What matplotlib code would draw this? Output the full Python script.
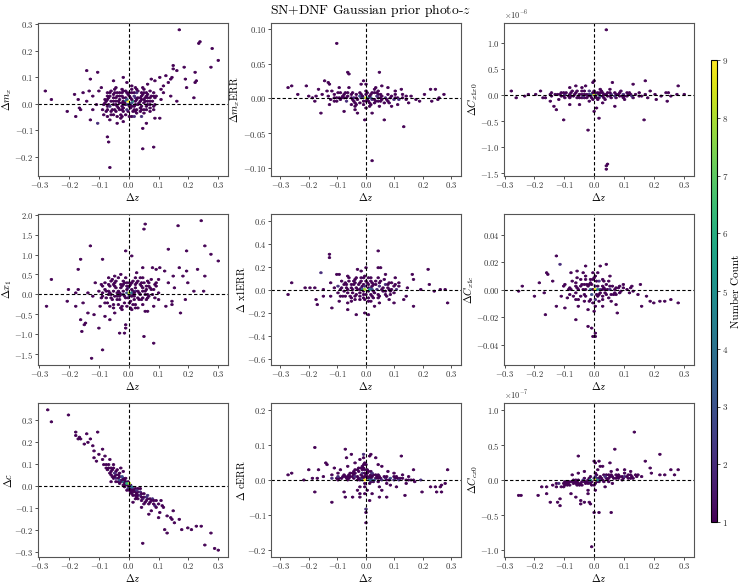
import numpy as np
import matplotlib
matplotlib.use("Agg")
import matplotlib.pyplot as plt
from matplotlib.ticker import MultipleLocator

plt.rcParams['font.family'] = 'serif'
plt.rcParams['font.serif'] = ['cmr10', 'DejaVu Serif']
plt.rcParams['mathtext.fontset'] = 'cm'
plt.rcParams['axes.formatter.use_mathtext'] = True
plt.rcParams['axes.unicode_minus'] = True

# (dz, dparam); *_core = the dense blob, *_hot = (dz, dparam, count)
mx_pts = [(0.17, 0.28), (0.243, 0.233), (0.231, 0.226), (0.281, 0.21), (0.30, 0.165), (0.275, 0.137), (0.222, 0.12),
          (0.186, 0.14), (0.151, 0.142), (0.147, 0.13), (0.163, 0.127), (0.193, 0.093), (0.224, 0.086), (0.222, 0.083),
          (0.191, 0.06), (0.22, 0.022), (0.148, 0.1), (0.14, 0.094), (0.125, 0.11), (0.1, 0.1), (0.13, 0.08),
          (0.115, 0.07), (0.09, 0.085), (0.075, 0.09), (0.105, 0.055), (0.12, 0.04), (0.14, 0.03), (0.16, 0.01),
          (-0.143, 0.124), (-0.107, 0.117), (-0.132, 0.095), (-0.278, 0.05), (-0.262, 0.017), (-0.203, -0.028),
          (-0.18, 0.035), (-0.17, 0.02), (-0.165, -0.015), (-0.16, -0.02), (-0.177, -0.05), (-0.129, -0.063),
          (-0.105, -0.077), (-0.103, -0.073), (-0.068, -0.123), (-0.068, -0.142), (-0.064, -0.243), (0.043, -0.17),
          (0.084, -0.165), (0.048, -0.091), (0.06, -0.074), (0.1, -0.055), (0.09, -0.055), (-0.02, 0.1),
          (-0.009, 0.08), (-0.051, 0.089), (0.012, 0.068), (-0.15, 0.04), (-0.13, 0.05), (-0.12, 0.03), (-0.11, 0.0),
          (-0.12, -0.02), (-0.14, 0.01), (-0.09, 0.06), (-0.1, 0.045), (-0.085, -0.04), (-0.06, -0.06),
          (-0.04, -0.07), (-0.02, -0.065), (-0.075, -0.05), (0.02, -0.05), (0.04, -0.045), (0.07, -0.03),
          (0.08, -0.02), (0.05, 0.06), (0.065, 0.075), (0.03, 0.05), (0.08, 0.04), (0.095, 0.03), (0.11, 0.015)]
mx_core = [(-0.08, 0.02), (-0.07, 0.0), (-0.07, -0.02), (-0.06, 0.03), (-0.06, 0.01), (-0.06, -0.01), (-0.06, -0.03),
           (-0.05, 0.04), (-0.05, 0.02), (-0.05, 0.0), (-0.05, -0.02), (-0.05, -0.04), (-0.04, 0.03), (-0.04, 0.01),
           (-0.04, -0.01), (-0.04, -0.03), (-0.03, 0.045), (-0.03, 0.02), (-0.03, 0.0), (-0.03, -0.02),
           (-0.03, -0.04), (-0.02, 0.03), (-0.02, 0.01), (-0.02, -0.01), (-0.02, -0.03), (-0.01, 0.04),
           (-0.01, 0.02), (-0.01, 0.0), (-0.01, -0.02), (0.0, 0.03), (0.0, -0.01), (0.0, -0.03), (0.01, 0.04),
           (0.01, 0.02), (0.01, -0.01), (0.01, -0.03), (0.02, 0.03), (0.02, 0.01), (0.02, -0.01), (0.02, -0.03),
           (0.03, 0.04), (0.03, 0.02), (0.03, 0.0), (0.03, -0.02), (0.04, 0.03), (0.04, 0.01), (0.04, -0.01),
           (0.04, -0.03), (0.05, 0.04), (0.05, 0.02), (0.05, 0.0), (0.05, -0.02), (0.06, 0.03), (0.06, 0.01),
           (0.06, -0.01), (0.07, 0.02), (0.07, 0.0), (0.08, 0.01),
           (-0.075, 0.01), (-0.065, -0.01), (-0.065, 0.025), (-0.055, 0.035), (-0.055, -0.025), (-0.045, 0.02),
           (-0.045, -0.005), (-0.035, 0.03), (-0.035, -0.015), (-0.025, 0.04), (-0.025, 0.005), (-0.025, -0.025),
           (-0.015, 0.025), (-0.015, -0.015), (-0.005, 0.035), (-0.005, -0.02), (0.005, 0.025), (0.005, -0.015),
           (0.015, 0.03), (0.015, -0.02), (0.025, 0.04), (0.025, -0.005), (0.035, 0.025), (0.035, -0.015),
           (0.045, 0.035), (0.045, -0.02), (0.055, 0.01), (0.065, 0.02), (0.065, -0.005), (0.075, 0.03),
           (0.085, 0.0), (-0.085, 0.0), (-0.09, -0.02), (0.09, 0.02), (-0.04, 0.06), (0.02, 0.06), (-0.07, 0.04),
           (0.06, 0.045),
           (-0.08, 0.005), (-0.07, 0.015), (-0.06, 0.045), (-0.06, -0.045), (-0.05, 0.055), (-0.05, 0.01),
           (-0.04, -0.045), (-0.04, 0.045), (-0.035, 0.01), (-0.03, -0.055), (-0.025, 0.055), (-0.02, 0.045),
           (-0.02, -0.045), (-0.015, 0.005), (-0.01, 0.05), (-0.01, -0.04), (-0.005, 0.01), (0.0, 0.045),
           (0.0, -0.045), (0.005, -0.005), (0.01, 0.055), (0.01, -0.045), (0.015, 0.01), (0.02, 0.045),
           (0.02, -0.045), (0.025, 0.015), (0.03, 0.055), (0.03, -0.035), (0.035, 0.005), (0.04, 0.045),
           (0.04, -0.045), (0.045, 0.015), (0.05, 0.055), (0.05, -0.035), (0.055, 0.025), (0.06, -0.025),
           (0.065, 0.035), (0.07, 0.045), (0.07, -0.015), (0.075, 0.01), (0.08, 0.03), (0.08, -0.01),
           (-0.075, 0.03), (-0.075, -0.01), (-0.08, -0.03), (-0.065, 0.04)]
mx_hot = [(0.0, 0.01, 9), (-0.01, 0.01, 4), (0.01, 0.01, 5), (0.0, 0.0, 3), (-0.005, 0.02, 3), (0.01, 0.0, 3),
          (-0.02, 0.0, 2), (0.02, 0.02, 2)]

mxerr_pts = [(-0.098, 0.080), (-0.273, 0.017), (-0.259, 0.019), (-0.206, 0.018), (-0.238, 0.005), (-0.144, 0.026),
             (-0.13, 0.023), (-0.126, 0.021), (-0.063, 0.039), (-0.057, 0.035), (0.05, 0.037), (-0.168, 0.012),
             (-0.173, 0.003), (-0.157, -0.021), (-0.124, -0.008), (-0.075, -0.02), (-0.032, -0.02), (-0.038, -0.016),
             (-0.005, -0.031), (0.064, -0.032), (0.134, -0.041), (0.025, -0.09), (0.224, 0.013), (0.245, 0.014),
             (0.206, 0.007), (0.275, 0.005), (0.254, -0.001), (0.233, -0.005), (0.26, 0.002), (0.152, -0.006),
             (0.177, -0.002), (0.032, 0.016), (0.028, 0.013), (0.123, 0.012), (0.1, 0.01), (0.01, -0.012),
             (0.02, -0.02), (-0.09, 0.015), (-0.1, 0.008), (-0.11, -0.005), (-0.18, -0.005), (-0.19, 0.0),
             (-0.2, 0.002), (-0.15, 0.005), (-0.14, 0.01), (-0.12, 0.012), (0.06, 0.018), (0.08, 0.015),
             (0.09, -0.01), (0.11, -0.008), (0.13, 0.005), (0.14, -0.002), (0.16, 0.004), (0.19, -0.004),
             (-0.05, -0.01), (-0.06, 0.015), (-0.07, 0.008), (-0.02, 0.02), (-0.01, 0.025), (0.0, 0.022),
             (0.04, 0.01), (0.05, -0.012), (-0.04, -0.012), (0.0, -0.015)]
mxerr_core = [(-0.1, 0.002), (-0.09, -0.002), (-0.08, 0.004), (-0.07, -0.003), (-0.06, 0.003), (-0.05, -0.002),
              (-0.05, 0.006), (-0.04, 0.002), (-0.04, -0.005), (-0.03, 0.005), (-0.03, -0.002), (-0.02, 0.0),
              (-0.02, 0.008), (-0.02, -0.006), (-0.01, 0.004), (-0.01, -0.004), (0.0, 0.006), (0.0, -0.005),
              (0.01, 0.003), (0.01, -0.004), (0.02, 0.005), (0.02, -0.002), (0.03, 0.0), (0.03, 0.007),
              (0.03, -0.006), (0.04, 0.003), (0.04, -0.003), (0.05, 0.0), (0.05, 0.006), (0.06, -0.002),
              (0.07, 0.002), (0.08, -0.003), (0.09, 0.003), (0.1, -0.001), (0.11, 0.002), (0.12, -0.002),
              (-0.095, 0.0), (-0.085, 0.001), (-0.075, 0.0), (-0.065, 0.0), (-0.055, 0.001), (-0.045, 0.0),
              (-0.035, 0.0), (-0.025, 0.003), (-0.015, 0.0), (-0.005, 0.002), (0.005, -0.002), (0.015, 0.002),
              (0.025, -0.001), (0.035, 0.003), (0.045, 0.001), (0.055, -0.003), (0.065, 0.001), (0.075, -0.001),
              (0.085, 0.001), (0.095, -0.002), (0.105, 0.001), (0.115, -0.001), (0.13, 0.0), (0.14, 0.003),
              (-0.11, 0.001), (-0.12, -0.002), (-0.13, 0.003), (-0.06, 0.009), (0.04, 0.009), (0.0, 0.01),
              (-0.03, -0.008), (0.02, -0.008),
              (-0.075, 0.006), (-0.065, -0.005), (-0.045, 0.008), (-0.035, -0.006), (-0.015, 0.007), (-0.005, -0.008),
              (0.005, 0.008), (0.015, -0.007), (0.025, 0.009), (0.035, -0.005), (0.045, 0.006), (0.055, 0.004),
              (0.065, -0.006), (0.075, 0.005), (0.085, -0.006), (0.1, 0.006), (-0.09, 0.007), (-0.1, -0.005),
              (-0.11, 0.006)]
mxerr_hot = [(0.0, 0.0, 9), (-0.01, 0.0, 3), (0.01, 0.0, 4), (0.02, 0.0, 2), (-0.02, 0.002, 2)]

# in units of 1e-6
cx1x0_pts = [(0.043, 1.25), (-0.002, 0.29), (-0.004, 0.25), (0.061, 0.22), (0.13, 0.21), (0.169, 0.26), (0.281, 0.19),
             (0.186, 0.07), (0.24, 0.04), (0.208, -0.1), (0.244, -0.11), (0.275, 0.0), (0.303, 0.02), (-0.275, 0.08),
             (-0.261, -0.05), (-0.18, 0.07), (-0.16, -0.04), (-0.147, -0.13), (-0.132, -0.22), (-0.127, -0.27),
             (-0.104, -0.46), (-0.021, -0.67), (0.016, -0.46), (0.002, -0.32), (0.008, -0.26), (0.065, -0.21),
             (0.169, -0.48), (0.039, -1.36), (0.045, -1.34), (0.043, -1.42), (-0.08, 0.14), (-0.06, 0.16),
             (-0.04, 0.15), (-0.025, 0.18), (0.02, 0.12), (0.05, 0.1), (0.09, 0.08), (0.12, 0.06), (0.15, 0.05),
             (0.2, 0.02), (0.22, -0.03), (0.26, -0.02), (-0.2, 0.02), (-0.22, 0.01), (-0.23, -0.02), (-0.17, -0.05),
             (-0.12, -0.1), (-0.08, -0.17), (-0.05, -0.2), (-0.02, -0.12), (0.03, -0.15), (0.1, -0.08),
             (0.13, -0.05), (-0.1, 0.06), (-0.14, 0.04), (0.18, -0.04), (0.25, 0.05)]
cx1x0_core = [(-0.12, 0.0), (-0.11, -0.03), (-0.1, 0.02), (-0.09, -0.02), (-0.08, 0.03), (-0.08, -0.05), (-0.07, 0.0),
              (-0.06, 0.05), (-0.06, -0.04), (-0.05, 0.01), (-0.05, -0.07), (-0.04, 0.06), (-0.04, -0.02),
              (-0.03, 0.02), (-0.03, -0.05), (-0.02, 0.07), (-0.02, -0.01), (-0.01, 0.03), (-0.01, -0.06),
              (0.0, 0.08), (0.0, -0.03), (0.01, 0.04), (0.01, -0.08), (0.02, 0.0), (0.02, 0.06), (0.03, -0.04),
              (0.03, 0.03), (0.04, 0.0), (0.05, 0.05), (0.05, -0.03), (0.06, 0.01), (0.07, -0.02), (0.08, 0.03),
              (0.09, -0.01), (0.1, 0.02), (0.11, -0.03), (0.12, 0.01), (0.13, -0.02), (0.14, 0.0),
              (-0.115, 0.0), (-0.105, -0.01), (-0.095, 0.0), (-0.085, 0.0), (-0.075, -0.02), (-0.065, 0.02),
              (-0.055, -0.01), (-0.045, 0.02), (-0.035, -0.01), (-0.025, 0.03), (-0.015, -0.03), (-0.005, 0.04),
              (0.005, -0.04), (0.015, 0.02), (0.025, -0.02), (0.035, 0.01), (0.045, -0.01), (0.055, 0.02),
              (0.065, -0.01), (0.075, 0.01), (0.085, -0.01), (0.095, 0.01), (0.105, -0.01), (0.115, 0.01),
              (0.125, -0.01), (0.15, 0.0), (0.16, -0.02), (0.17, 0.01), (-0.13, 0.02), (-0.14, -0.02), (-0.15, 0.0),
              (-0.095, 0.06), (-0.075, 0.06), (-0.055, 0.08), (-0.045, -0.05), (-0.035, 0.07), (-0.025, -0.07),
              (-0.015, 0.08), (-0.005, -0.1), (0.005, 0.06), (0.015, -0.06), (0.025, 0.08), (0.035, -0.07),
              (0.045, 0.06), (0.055, -0.06), (0.065, 0.05), (0.075, -0.05), (0.085, 0.06), (0.1, -0.05),
              (0.11, 0.05), (-0.11, 0.05), (-0.1, -0.06)]
cx1x0_hot = [(0.0, 0.0, 9), (-0.01, 0.0, 3), (0.01, 0.0, 5), (-0.02, 0.0, 2), (0.02, -0.01, 2), (0.005, 0.02, 2)]

x1_pts = [(0.056, 1.79), (0.049, 1.66), (0.243, 1.86), (0.165, 1.70), (0.133, 1.12), (0.19, 1.08), (0.252, 1.21),
          (0.276, 1.03), (0.301, 0.82), (-0.13, 1.21), (-0.162, 0.88), (-0.086, 0.88), (-0.012, 1.07), (0.01, 0.98),
          (-0.167, 0.63), (-0.262, 0.36), (-0.275, -0.3), (-0.206, -0.15), (-0.181, -0.31), (-0.162, -0.61),
          (-0.158, -0.92), (-0.148, -0.71), (-0.149, -0.77), (-0.101, -0.83), (-0.126, -1.63), (-0.088, -1.39),
          (-0.031, -0.98), (-0.018, -0.98), (0.053, -1.07), (0.084, -1.22), (0.17, -0.46), (0.141, -0.18),
          (0.145, -0.24), (0.125, -0.31), (0.192, -0.11), (0.22, 0.08), (0.249, 0.08), (0.195, 0.61), (0.167, 0.69),
          (0.232, 0.63), (0.254, 0.46), (0.182, 0.46), (0.15, 0.47), (0.12, 0.57), (0.105, 0.66), (0.088, 0.63),
          (0.077, 0.68), (0.043, 0.68), (0.055, -0.43), (0.06, -0.43), (0.01, -0.4), (0.02, -0.36), (-0.009, -0.76),
          (-0.013, -0.84), (-0.2, 0.14), (-0.17, 0.14), (-0.18, 0.02), (-0.14, 0.05), (-0.12, -0.05), (-0.14, -0.45),
          (-0.12, -0.5), (-0.1, -0.3), (-0.08, -0.55), (-0.06, -0.65), (-0.05, -0.45), (-0.11, 0.3), (-0.09, 0.25),
          (-0.05, 0.45), (-0.03, 0.5), (0.1, 0.4), (0.13, 0.3), (0.09, 0.2), (0.1, -0.15), (0.08, -0.3),
          (-0.15, -0.2), (0.2, 0.3), (0.15, 0.15), (-0.07, 0.4), (0.03, 0.55)]
x1_core = [(-0.09, 0.05), (-0.08, -0.1), (-0.08, 0.15), (-0.07, -0.2), (-0.07, 0.0), (-0.06, 0.2), (-0.06, -0.1),
           (-0.05, 0.1), (-0.05, -0.25), (-0.05, 0.3), (-0.04, -0.05), (-0.04, 0.15), (-0.03, 0.25), (-0.03, -0.15),
           (-0.03, 0.05), (-0.02, -0.3), (-0.02, 0.1), (-0.02, 0.35), (-0.01, -0.1), (-0.01, 0.2), (0.0, 0.3),
           (0.0, -0.2), (0.01, 0.15), (0.01, -0.05), (0.02, 0.25), (0.02, -0.15), (0.02, 0.05), (0.03, 0.35),
           (0.03, -0.08), (0.04, 0.2), (0.04, 0.0), (0.05, 0.3), (0.05, -0.1), (0.06, 0.1), (0.07, 0.22),
           (0.07, -0.05), (0.08, 0.12), (0.09, 0.3),
           (-0.085, -0.05), (-0.075, 0.1), (-0.065, 0.05), (-0.055, -0.15), (-0.045, 0.2), (-0.045, -0.05),
           (-0.035, 0.1), (-0.035, -0.25), (-0.025, 0.0), (-0.025, 0.2), (-0.015, -0.2), (-0.015, 0.3),
           (-0.005, 0.1), (-0.005, -0.1), (0.005, 0.25), (0.005, -0.15), (0.015, 0.0), (0.015, 0.35),
           (0.025, -0.25), (0.025, 0.15), (0.035, 0.05), (0.035, 0.25), (0.045, -0.15), (0.045, 0.1), (0.055, 0.2),
           (0.055, 0.0), (0.065, 0.3), (0.065, -0.1), (0.075, 0.1), (0.085, 0.25), (0.1, 0.05), (-0.1, 0.1),
           (-0.06, 0.35), (0.04, 0.4), (-0.02, -0.4),
           (-0.09, 0.2), (-0.09, -0.1), (-0.08, 0.3), (-0.08, -0.2), (-0.07, 0.25), (-0.07, 0.1), (-0.065, -0.3),
           (-0.06, 0.0), (-0.055, 0.4), (-0.055, 0.25), (-0.05, -0.35), (-0.045, 0.35), (-0.04, 0.05),
           (-0.04, -0.15), (-0.035, 0.4), (-0.03, -0.05), (-0.03, 0.15), (-0.025, -0.35), (-0.02, 0.25),
           (-0.015, -0.05), (-0.01, 0.4), (-0.01, -0.3), (-0.005, 0.3), (0.0, 0.2), (0.005, -0.35), (0.01, 0.3),
           (0.01, -0.25), (0.015, 0.1), (0.02, 0.4), (0.02, -0.05), (0.025, 0.3), (0.03, 0.1), (0.03, -0.35),
           (0.035, -0.15), (0.04, 0.3), (0.045, 0.4), (0.05, 0.15), (0.05, -0.25), (0.055, 0.1), (0.06, 0.35),
           (0.06, -0.15), (0.065, 0.0), (0.07, 0.15), (0.075, 0.35), (0.08, 0.0), (0.085, -0.1)]
x1_hot = [(0.0, 0.05, 8), (-0.01, 0.05, 3), (0.01, 0.05, 4), (0.0, 0.15, 2), (0.0, -0.05, 2), (-0.02, 0.0, 2),
          (0.02, 0.1, 2)]

x1err_pts = [(0.046, 0.335), (-0.132, 0.306), (-0.13, 0.277), (0.05, 0.195), (0.045, 0.19), (0.0, 0.2), (0.217, 0.18),
             (-0.161, 0.153), (-0.157, 0.14), (-0.261, 0.06), (-0.274, -0.043), (-0.2, 0.02), (-0.178, -0.09),
             (-0.174, -0.135), (-0.12, -0.16), (-0.067, -0.17), (-0.036, -0.22), (-0.003, -0.21), (0.006, -0.22),
             (0.17, -0.147), (0.287, -0.113), (0.22, 0.04), (0.24, -0.01), (0.26, 0.0), (0.28, 0.0), (0.19, -0.0),
             (0.16, 0.13), (0.165, 0.09), (-0.12, 0.06), (-0.1, 0.14), (-0.09, 0.13), (-0.066, 0.12), (-0.03, 0.17),
             (-0.02, 0.16), (0.1, 0.1), (0.12, 0.06), (0.14, -0.05), (0.13, -0.08), (0.1, -0.12), (0.08, -0.08),
             (-0.15, 0.0), (-0.15, -0.05), (-0.12, -0.06), (-0.09, -0.1), (-0.06, -0.12), (0.03, -0.15),
             (0.05, -0.12), (-0.21, 0.02), (-0.18, 0.02), (0.07, 0.14), (0.09, 0.06), (0.15, 0.02), (-0.1, 0.03)]
x1err_core = [(-0.09, 0.0), (-0.08, 0.05), (-0.08, -0.05), (-0.07, 0.02), (-0.06, -0.03), (-0.06, 0.07), (-0.05, 0.0),
              (-0.05, -0.07), (-0.04, 0.04), (-0.04, 0.09), (-0.03, -0.04), (-0.03, 0.01), (-0.02, 0.06),
              (-0.02, -0.08), (-0.01, -0.02), (-0.01, 0.03), (0.0, 0.08), (0.0, -0.05), (0.01, 0.04), (0.01, -0.02),
              (0.02, 0.1), (0.02, -0.06), (0.02, 0.01), (0.03, 0.05), (0.03, -0.03), (0.04, 0.0), (0.05, 0.06),
              (0.05, -0.05), (0.06, 0.02), (0.07, -0.02), (0.08, 0.04), (0.09, 0.0), (0.1, -0.03),
              (-0.085, 0.02), (-0.075, -0.02), (-0.065, 0.04), (-0.055, 0.02), (-0.055, -0.05), (-0.045, -0.02),
              (-0.035, 0.06), (-0.035, 0.02), (-0.025, -0.06), (-0.025, 0.04), (-0.015, 0.08), (-0.015, 0.0),
              (-0.005, -0.04), (-0.005, 0.05), (0.005, 0.02), (0.005, -0.07), (0.015, 0.07), (0.015, -0.04),
              (0.025, 0.03), (0.025, -0.02), (0.035, 0.08), (0.035, 0.0), (0.045, -0.04), (0.045, 0.03),
              (0.055, 0.0), (0.065, 0.05), (0.065, -0.04), (0.075, 0.02), (0.085, -0.01), (0.095, 0.03),
              (0.11, 0.0), (0.12, 0.03), (-0.1, -0.03), (-0.11, 0.02), (0.0, 0.12), (0.01, -0.1),
              (-0.095, 0.03), (-0.09, -0.05), (-0.085, 0.08), (-0.075, 0.06), (-0.07, -0.06), (-0.065, 0.0),
              (-0.06, 0.1), (-0.055, 0.05), (-0.05, -0.1), (-0.045, 0.07), (-0.04, -0.06), (-0.035, -0.09),
              (-0.03, 0.1), (-0.025, 0.0), (-0.02, -0.03), (-0.015, 0.11), (-0.01, -0.07), (-0.005, 0.1),
              (0.0, -0.09), (0.005, 0.06), (0.01, 0.1), (0.015, 0.02), (0.02, -0.1), (0.025, 0.06), (0.03, -0.07),
              (0.035, 0.04), (0.04, 0.1), (0.045, -0.07), (0.05, 0.03), (0.055, 0.08), (0.06, -0.02), (0.065, 0.08),
              (0.07, 0.05), (0.075, -0.05), (0.08, 0.0), (0.085, 0.06), (0.09, -0.04), (0.1, 0.05), (0.105, 0.0)]
x1err_hot = [(0.0, 0.0, 8), (0.01, 0.0, 5), (-0.01, 0.0, 3), (0.02, 0.0, 3), (0.0, 0.03, 2), (-0.02, 0.02, 2)]

cx1c_pts = [(-0.127, 0.024), (-0.115, 0.019), (-0.112, 0.018), (-0.157, 0.012), (-0.152, 0.011), (-0.182, 0.005),
            (-0.239, 0.003), (-0.254, -0.001), (-0.11, -0.005), (-0.09, -0.006), (-0.163, -0.018), (-0.065, -0.022),
            (-0.02, -0.027), (-0.009, -0.027), (-0.003, -0.034), (0.003, -0.034), (0.0, -0.031), (0.038, 0.018),
            (0.02, 0.018), (-0.027, 0.017), (0.188, -0.008), (0.2, -0.01), (0.22, -0.009), (0.24, -0.008),
            (0.257, -0.007), (0.282, -0.009), (0.175, -0.004), (0.15, -0.003), (0.12, -0.002), (0.16, -0.012),
            (0.08, -0.017), (0.07, -0.011), (0.1, 0.004), (0.13, 0.003), (0.155, 0.004), (-0.2, -0.005),
            (-0.17, -0.002), (-0.14, 0.006), (-0.13, -0.012), (-0.1, -0.013), (-0.08, 0.012), (-0.06, 0.014),
            (-0.04, 0.012), (-0.05, -0.012), (0.05, 0.01), (0.06, -0.008), (0.03, -0.012), (-0.02, -0.015),
            (0.01, 0.012), (-0.005, 0.013)]
cx1c_core = [(-0.08, 0.002), (-0.07, -0.004), (-0.06, 0.005), (-0.05, 0.0), (-0.05, -0.007), (-0.04, 0.004),
             (-0.03, -0.003), (-0.03, 0.007), (-0.02, 0.002), (-0.02, -0.008), (-0.01, 0.005), (-0.01, -0.004),
             (0.0, 0.008), (0.0, -0.007), (0.01, 0.003), (0.01, -0.005), (0.02, 0.006), (0.02, -0.002), (0.03, 0.002),
             (0.03, -0.007), (0.04, 0.004), (0.04, -0.003), (0.05, 0.0), (0.06, 0.003), (0.07, -0.002), (0.08, 0.002),
             (0.09, -0.001), (0.1, 0.001),
             (-0.075, 0.0), (-0.065, -0.002), (-0.065, 0.003), (-0.055, 0.002), (-0.045, -0.004), (-0.045, 0.007),
             (-0.035, 0.0), (-0.035, -0.008), (-0.025, 0.004), (-0.025, -0.005), (-0.015, 0.0), (-0.015, 0.008),
             (-0.015, -0.007), (-0.005, 0.004), (-0.005, -0.009), (0.005, 0.006), (0.005, -0.003), (0.015, 0.0),
             (0.015, -0.008), (0.025, 0.003), (0.025, -0.005), (0.035, 0.006), (0.035, -0.002), (0.045, 0.0),
             (0.055, 0.003), (0.055, -0.004), (0.065, 0.0), (0.075, 0.002), (0.085, -0.002), (0.11, 0.0),
             (0.12, 0.002), (0.13, -0.001), (-0.09, 0.0), (-0.1, 0.003), (0.0, -0.012), (0.0, -0.015), (0.005, 0.01),
             (-0.075, 0.006), (-0.065, -0.007), (-0.055, 0.009), (-0.045, 0.002), (-0.035, 0.004), (-0.025, 0.0),
             (-0.025, 0.01), (-0.015, 0.004), (-0.005, 0.0), (-0.005, 0.007), (0.005, 0.0), (0.005, -0.007),
             (0.015, 0.006), (0.015, -0.004), (0.025, 0.0), (0.025, 0.008), (0.035, 0.0), (0.045, 0.006),
             (0.045, -0.006), (0.055, 0.0), (0.065, -0.004), (0.075, -0.004), (0.085, 0.003), (-0.085, -0.003),
             (-0.095, 0.004)]
cx1c_hot = [(0.0, 0.0, 9), (-0.01, 0.0, 3), (0.01, 0.0, 4), (0.0, 0.003, 2), (-0.005, -0.003, 2), (0.02, 0.0, 2)]

c_pts = [(-0.276, 0.344), (-0.264, 0.288), (-0.203, 0.326), (-0.177, 0.244), (-0.175, 0.227), (-0.165, 0.225),
         (-0.16, 0.21), (-0.168, 0.212), (-0.143, 0.236), (-0.132, 0.216), (-0.103, 0.244), (-0.125, 0.18),
         (-0.115, 0.16), (-0.1, 0.145), (-0.09, 0.17), (-0.08, 0.135), (-0.09, 0.12), (-0.11, 0.11), (0.05, -0.259),
         (0.253, -0.265), (0.286, -0.282), (0.3, -0.29), (0.244, -0.18), (0.226, -0.187), (0.213, -0.196),
         (0.195, -0.194), (0.278, -0.218), (0.17, -0.15), (0.178, -0.195), (0.153, -0.17), (0.128, -0.212),
         (0.123, -0.2), (0.142, -0.14), (0.146, -0.155), (0.131, -0.137), (0.108, -0.12), (0.12, -0.1),
         (0.1, -0.14), (0.09, -0.09), (0.075, -0.115), (0.08, -0.06), (0.1, -0.08), (0.065, -0.13), (0.06, -0.045),
         (-0.06, 0.12), (-0.07, 0.1), (-0.05, 0.1), (-0.14, 0.2), (-0.15, 0.185), (-0.12, 0.125), (0.02, -0.06),
         (0.04, -0.1), (0.03, -0.02), (0.05, -0.08), (-0.02, 0.04), (-0.03, 0.08), (-0.04, 0.07), (-0.015, 0.065),
         (0.015, -0.07), (-0.06, 0.02), (-0.01, -0.02), (0.15, -0.11), (0.11, -0.065), (0.07, -0.075)]
c_core = [(-0.07, 0.07), (-0.06, 0.05), (-0.06, 0.08), (-0.05, 0.03), (-0.05, 0.06), (-0.045, 0.045), (-0.04, 0.02),
          (-0.04, 0.05), (-0.035, 0.035), (-0.03, 0.01), (-0.03, 0.04), (-0.025, 0.03), (-0.02, 0.0), (-0.02, 0.03),
          (-0.015, 0.015), (-0.01, 0.0), (-0.01, 0.02), (0.0, 0.0), (0.0, -0.02), (0.005, -0.01), (0.01, -0.02),
          (0.01, 0.0), (0.015, -0.025), (0.02, -0.03), (0.02, -0.01), (0.025, -0.04), (0.03, -0.04), (0.03, -0.015),
          (0.035, -0.03), (0.04, -0.05), (0.04, -0.025), (0.05, -0.04), (0.05, -0.06), (0.06, -0.05), (0.06, -0.07),
          (0.07, -0.06), (0.08, -0.08), (0.09, -0.07),
          (-0.065, 0.06), (-0.055, 0.045), (-0.055, 0.07), (-0.045, 0.035), (-0.045, 0.06), (-0.035, 0.02),
          (-0.035, 0.05), (-0.025, 0.015), (-0.025, 0.045), (-0.015, 0.0), (-0.015, 0.03), (-0.005, 0.01),
          (-0.005, -0.01), (0.005, 0.0), (0.005, -0.025), (0.015, -0.01), (0.015, -0.04), (0.025, -0.02),
          (0.025, -0.05), (0.035, -0.045), (0.035, -0.015), (0.045, -0.035), (0.045, -0.06), (0.055, -0.05),
          (0.065, -0.06), (0.075, -0.07), (0.085, -0.065), (-0.08, 0.08), (-0.075, 0.095), (-0.085, 0.1),
          (0.095, -0.1), (0.11, -0.09),
          (-0.065, 0.08), (-0.06, 0.065), (-0.05, 0.08), (-0.04, 0.035), (-0.04, 0.065), (-0.03, 0.025),
          (-0.03, 0.055), (-0.02, 0.015), (-0.02, 0.045), (-0.01, 0.01), (-0.01, 0.035), (0.0, 0.02), (0.0, -0.01),
          (0.01, -0.01), (0.01, -0.035), (0.02, -0.02), (0.02, -0.045), (0.03, -0.03), (0.03, -0.055),
          (0.04, -0.04), (0.04, -0.065), (0.05, -0.05), (0.055, -0.075), (0.065, -0.045), (0.07, -0.08),
          (0.08, -0.06), (0.085, -0.09)]
c_hot = [(0.0, 0.01, 8), (-0.01, 0.01, 4), (0.01, -0.005, 3), (-0.02, 0.02, 3), (-0.03, 0.025, 2), (0.0, -0.005, 2)]

cerr_pts = [(-0.178, 0.091), (-0.071, 0.088), (-0.048, 0.073), (-0.065, 0.065), (-0.005, 0.075), (-0.01, 0.074),
            (0.02, 0.073), (0.015, 0.07), (0.035, 0.063), (0.123, 0.067), (-0.261, 0.021), (-0.273, 0.016),
            (-0.2, 0.03), (-0.165, 0.03), (-0.14, 0.048), (-0.135, 0.044), (0.165, 0.031), (0.289, 0.03),
            (0.23, -0.018), (0.24, -0.02), (0.26, -0.018), (0.265, -0.016), (0.28, -0.01), (0.2, -0.035),
            (0.245, -0.036), (0.263, -0.035), (0.134, -0.046), (0.107, -0.023), (0.076, -0.048), (0.046, -0.048),
            (-0.176, -0.035), (-0.123, -0.064), (-0.07, -0.05), (-0.08, -0.036), (-0.045, -0.052), (-0.003, -0.083),
            (0.003, -0.083), (0.004, -0.095), (0.0, -0.122), (-0.02, -0.04), (-0.018, -0.05), (-0.025, -0.02),
            (-0.03, -0.03), (0.01, -0.06), (0.02, -0.04), (0.06, -0.03), (0.09, -0.015), (0.14, -0.01),
            (0.17, -0.005), (0.19, -0.002), (0.15, 0.012), (0.13, 0.015), (0.1, 0.02), (0.08, 0.025), (0.06, 0.04),
            (0.04, 0.045), (0.0, 0.05), (-0.02, 0.06), (-0.04, 0.05), (-0.06, 0.04), (-0.09, 0.03), (-0.1, 0.02),
            (-0.12, 0.012), (-0.15, 0.01), (-0.17, 0.005), (-0.19, 0.003), (-0.22, 0.0), (-0.11, 0.035),
            (0.07, -0.01), (0.05, -0.02), (-0.01, 0.065)]
cerr_core = [(-0.12, 0.005), (-0.1, 0.008), (-0.09, 0.003), (-0.08, 0.012), (-0.07, 0.005), (-0.06, 0.015),
             (-0.06, 0.003), (-0.05, 0.02), (-0.05, 0.008), (-0.04, 0.025), (-0.04, 0.01), (-0.03, 0.03),
             (-0.03, 0.012), (-0.03, 0.0), (-0.02, 0.035), (-0.02, 0.015), (-0.02, 0.0), (-0.01, 0.04), (-0.01, 0.02),
             (-0.01, 0.005), (0.0, 0.03), (0.0, 0.015), (0.0, -0.01), (0.0, -0.02), (0.01, 0.025), (0.01, 0.01),
             (0.01, -0.01), (0.02, 0.02), (0.02, 0.005), (0.03, 0.015), (0.03, 0.0), (0.04, 0.01), (0.04, -0.005),
             (0.05, 0.008), (0.06, 0.0), (0.07, 0.005), (0.08, 0.0), (0.09, 0.005), (0.1, 0.0), (0.11, 0.003),
             (0.12, 0.0), (0.13, 0.002), (0.15, 0.0), (0.17, 0.001), (0.19, 0.0),
             (-0.115, 0.003), (-0.105, 0.006), (-0.095, 0.01), (-0.085, 0.005), (-0.075, 0.01), (-0.065, 0.008),
             (-0.055, 0.012), (-0.045, 0.015), (-0.035, 0.02), (-0.025, 0.025), (-0.015, 0.03), (-0.005, 0.02),
             (-0.005, 0.035), (0.005, 0.01), (0.005, 0.03), (0.015, 0.015), (0.015, -0.005), (0.025, 0.01),
             (0.035, 0.005), (0.045, 0.003), (0.055, 0.0), (0.065, 0.003), (0.075, 0.0), (0.085, 0.002), (0.095, 0.0),
             (0.105, 0.002), (0.115, 0.0), (0.14, 0.0), (0.16, 0.0), (0.005, -0.03), (-0.005, -0.04), (0.0, 0.045),
             (-0.095, 0.0), (-0.075, 0.015), (-0.065, 0.0), (-0.055, 0.02), (-0.045, 0.005), (-0.035, 0.01),
             (-0.035, 0.03), (-0.025, 0.005), (-0.025, 0.035), (-0.015, 0.01), (-0.015, 0.02), (-0.005, 0.01),
             (-0.005, 0.045), (0.005, 0.02), (0.005, 0.005), (0.015, 0.025), (0.025, 0.02), (0.025, -0.005),
             (0.035, 0.012), (0.045, 0.012), (0.055, 0.006), (0.065, 0.01), (0.075, 0.008), (0.085, 0.006),
             (0.095, 0.008), (0.11, 0.008), (0.12, 0.004)]
cerr_hot = [(0.0, 0.0, 9), (0.01, 0.0, 4), (-0.01, 0.0, 3), (0.02, 0.0, 3), (0.03, 0.0, 2), (-0.02, 0.005, 2)]

# in units of 1e-7
ccx0_pts = [(0.136, 0.68), (0.07, 0.457), (-0.053, 0.346), (0.22, 0.385), (0.0, 0.27), (0.003, 0.26), (0.015, 0.28),
            (0.02, 0.21), (0.025, 0.19), (0.053, 0.24), (0.169, 0.264), (0.256, 0.144), (0.28, 0.158), (0.22, 0.07),
            (0.235, 0.08), (0.27, 0.09), (0.185, 0.18), (0.19, 0.11), (-0.255, -0.216), (-0.243, -0.216),
            (-0.184, -0.216), (-0.16, -0.19), (-0.149, -0.32), (-0.125, -0.31), (-0.115, -0.36), (-0.118, -0.27),
            (-0.065, -0.24), (-0.045, -0.29), (-0.034, -0.32), (-0.045, -0.35), (-0.02, -0.31), (-0.01, -0.35),
            (-0.02, -0.2), (0.0, -0.45), (0.015, -0.45), (0.057, -0.47), (-0.008, -0.96), (-0.172, -0.1),
            (-0.16, -0.1), (-0.13, -0.04), (-0.1, -0.1), (-0.08, -0.2), (0.1, 0.15), (0.12, 0.12), (0.08, 0.16),
            (0.06, 0.12), (0.14, 0.08), (0.16, 0.05), (0.11, 0.05), (-0.05, 0.1), (-0.07, 0.08), (-0.03, 0.12),
            (0.04, -0.1), (0.06, -0.05), (-0.02, -0.13)]
ccx0_core = [(-0.12, -0.05), (-0.1, -0.06), (-0.1, -0.02), (-0.09, -0.08), (-0.08, -0.03), (-0.07, -0.06),
             (-0.07, 0.0), (-0.06, -0.04), (-0.05, -0.08), (-0.05, 0.0), (-0.04, -0.03), (-0.03, -0.06),
             (-0.03, 0.02), (-0.02, -0.01), (-0.01, -0.04), (-0.01, 0.05), (0.0, 0.0), (0.0, 0.1), (0.0, -0.08),
             (0.01, 0.03), (0.02, -0.02), (0.02, 0.06), (0.03, 0.01), (0.04, 0.05), (0.05, 0.02), (0.05, 0.08),
             (0.06, 0.04), (0.07, 0.07), (0.08, 0.03), (0.09, 0.06), (0.1, 0.04), (0.11, 0.08), (0.12, 0.03),
             (0.13, 0.06),
             (-0.115, -0.04), (-0.105, -0.04), (-0.095, -0.05), (-0.085, -0.05), (-0.075, -0.03), (-0.065, -0.02),
             (-0.055, -0.03), (-0.045, -0.05), (-0.035, 0.0), (-0.025, -0.03), (-0.015, 0.01), (-0.005, -0.02),
             (0.005, 0.02), (0.005, 0.06), (0.015, 0.0), (0.025, 0.03), (0.035, 0.04), (0.045, 0.01), (0.055, 0.05),
             (0.065, 0.02), (0.075, 0.04), (0.085, 0.06), (0.095, 0.03), (0.105, 0.06), (0.115, 0.04), (0.14, 0.05),
             (0.15, 0.08), (-0.14, -0.06), (-0.13, -0.1), (0.0, -0.15), (0.01, 0.15),
             (-0.11, -0.08), (-0.09, -0.02), (-0.08, -0.08), (-0.06, -0.08), (-0.06, 0.0), (-0.05, -0.05),
             (-0.04, 0.0), (-0.04, -0.08), (-0.03, -0.03), (-0.02, -0.06), (-0.02, 0.03), (-0.01, -0.08),
             (-0.01, 0.0), (0.0, 0.05), (0.0, -0.04), (0.01, 0.08), (0.01, -0.03), (0.02, 0.03), (0.03, 0.07),
             (0.03, -0.02), (0.04, 0.02), (0.04, 0.09), (0.05, -0.01), (0.06, 0.08), (0.07, 0.02), (0.08, 0.09),
             (0.09, 0.01), (0.1, 0.09), (0.12, 0.07), (0.13, 0.02)]
ccx0_hot = [(0.0, 0.0, 9), (0.01, 0.0, 4), (-0.01, 0.0, 3), (0.02, 0.01, 2), (-0.02, -0.02, 2), (0.0, 0.03, 2)]

ylabels = [r'$\Delta m_x$', r'$\Delta m_x$ERR', r'$\Delta C_{x1x0}$',
           r'$\Delta x_1$', r'$\Delta$ x1ERR', r'$\Delta C_{x1c}$',
           r'$\Delta c$', r'$\Delta$ cERR', r'$\Delta C_{cx0}$']

panels = [(mx_pts + mx_core, mx_hot, 1.0), (mxerr_pts + mxerr_core, mxerr_hot, 1.0),
          (cx1x0_pts + cx1x0_core, cx1x0_hot, 1e-6),
          (x1_pts + x1_core, x1_hot, 1.0), (x1err_pts + x1err_core, x1err_hot, 1.0),
          (cx1c_pts + cx1c_core, cx1c_hot, 1.0),
          (c_pts + c_core, c_hot, 1.0), (cerr_pts + cerr_core, cerr_hot, 1.0),
          (ccx0_pts + ccx0_core, ccx0_hot, 1e-7)]

ylims = [(-0.272, 0.305), (-0.112, 0.109), (-1.55e-6, 1.38e-6),
         (-1.775, 2.02), (-0.655, 0.658), (-0.0545, 0.055),
         (-0.323, 0.376), (-0.221, 0.22), (-1.1e-7, 1.106e-7)]
ysteps = [0.1, 0.05, 0.5e-6, 0.5, 0.2, 0.02, 0.1, 0.1, 0.5e-7]
xlims = [(-0.305, 0.333), (-0.333, 0.334), (-0.302, 0.334)]

W, H = 741, 585
fig = plt.figure(figsize=(W / 100, H / 100), dpi=100)

col_left = [38, 271, 504]
row_tb = [(23, 176), (214, 365), (403, 557)]
axw = 190

hb = None
for i, (pts, hot, scale) in enumerate(panels):
    r, c = divmod(i, 3)
    top, bot = row_tb[r]
    ax = fig.add_axes([col_left[c] / W, 1 - bot / H, axw / W, (bot - top) / H])
    x = [p[0] for p in pts] + [h[0] for h in hot]
    y = [p[1] * scale for p in pts] + [h[1] * scale for h in hot]
    n = [1] * len(pts) + [h[2] for h in hot]
    xl, yl = xlims[c], ylims[i]
    hb = ax.hexbin(x, y, C=n, reduce_C_function=np.sum, gridsize=78, linewidths=0.6,
                   extent=(xl[0], xl[1], yl[0], yl[1]), cmap='viridis', vmin=1, vmax=9)
    ax.axvline(0, color='k', ls=(0, (3, 2)), lw=0.8)
    ax.axhline(0, color='k', ls=(0, (3, 2)), lw=0.8)
    ax.set_xlim(xl)
    ax.set_ylim(yl)
    ax.set_xticks([-0.3, -0.2, -0.1, 0.0, 0.1, 0.2, 0.3])
    ax.yaxis.set_major_locator(MultipleLocator(ysteps[i]))
    ax.tick_params(labelsize=6.2, length=2, width=0.6, pad=1.2, colors='#333333')
    ax.yaxis.get_offset_text().set_fontsize(6)
    ax.yaxis.get_offset_text().set_color('#333333')
    for s in ax.spines.values():
        s.set_linewidth(0.8)
        s.set_color('#555555')
    ax.set_xlabel(r'$\Delta z$', fontsize=7.5, labelpad=0.5)
    ax.set_ylabel(ylabels[i], fontsize=7.5, labelpad=0.3)

cax = fig.add_axes([711 / W, 1 - 522 / H, 6 / W, 462 / H])
cb = fig.colorbar(hb, cax=cax, ticks=range(1, 10))
cb.set_label('Number Count', fontsize=8, labelpad=2)
cb.ax.tick_params(labelsize=6.5, length=2, width=0.6, pad=1.5, colors='#333333')
cb.outline.set_linewidth(0.8)

fig.text(0.5, 0.997, r'SN+DNF Gaussian prior photo-$z$', ha='center', va='top', fontsize=9.8)

fig.savefig('out.png', dpi=100)
